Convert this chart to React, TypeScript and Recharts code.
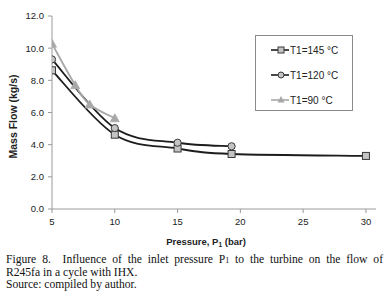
import React from 'react';
import { LineChart, Line, XAxis, YAxis, Label, Legend } from 'recharts';

const pressure145 = [5, 10, 15, 19.3, 30];
const flow145 = [8.62, 4.62, 3.76, 3.42, 3.3];
const pressure120 = [5, 10, 15, 19.3];
const flow120 = [9.3, 5.03, 4.12, 3.9];
const pressure90 = [5, 6.85, 8, 10];
const flow90 = [10.28, 7.7, 6.5, 5.64];
const xTicks = [5, 10, 15, 20, 25, 30];
const yTicks = [0, 2, 4, 6, 8, 10, 12];
const seriesNames = ['T1=145 \u00b0C', 'T1=120 \u00b0C', 'T1=90 \u00b0C'];

const toPoints = (xs: number[], ys: number[]) => xs.map((x, i) => ({ x, y: ys[i] }));
const data145 = toPoints(pressure145, flow145);
const data120 = toPoints(pressure120, flow120);
const data90 = toPoints(pressure90, flow90);

const FONT = '"Liberation Sans", Arial, sans-serif';
const DARK = '#1c1c1c';
const GREY = '#a8a8a8';
const MARK_FILL = '#c4c4c4';
const seriesColors = [DARK, DARK, GREY];

// Excel-like smoothed line (Catmull-Rom through the points)
const excelSmooth = (context: any) => {
  let pts: [number, number][] = [];
  return {
    areaStart() {},
    areaEnd() {},
    lineStart() {
      pts = [];
    },
    point(x: number, y: number) {
      pts.push([+x, +y]);
    },
    lineEnd() {
      if (!pts.length) return;
      context.moveTo(pts[0][0], pts[0][1]);
      for (let i = 0; i < pts.length - 1; i++) {
        const p0 = pts[i - 1] || pts[i];
        const p1 = pts[i];
        const p2 = pts[i + 1];
        const p3 = pts[i + 2] || pts[i + 1];
        const c1x = p1[0] + (p2[0] - p0[0]) / 6;
        const c1y = p1[1] + (p2[1] - p0[1]) / 6;
        const c2x = p2[0] - (p3[0] - p1[0]) / 6;
        const c2y = p2[1] - (p3[1] - p1[1]) / 6;
        context.bezierCurveTo(c1x, c1y, c2x, c2y, p2[0], p2[1]);
      }
    },
  };
};

const SquareDot = (props: any) => {
  const { cx, cy } = props;
  if (cx == null || cy == null) return null;
  return <rect x={cx - 3.5} y={cy - 3.5} width={7} height={7} fill={MARK_FILL} stroke="#3a3a3a" strokeWidth={1} />;
};
const CircleDot = (props: any) => {
  const { cx, cy } = props;
  if (cx == null || cy == null) return null;
  return <circle cx={cx} cy={cy} r={3.6} fill={MARK_FILL} stroke="#3a3a3a" strokeWidth={1} />;
};
const TriangleDot = (props: any) => {
  const { cx, cy } = props;
  if (cx == null || cy == null) return null;
  return <polygon points={`${cx},${cy - 4.5} ${cx + 4.5},${cy + 3.5} ${cx - 4.5},${cy + 3.5}`} fill={GREY} stroke={GREY} strokeWidth={0.8} />;
};

const legendSymbols = [
  (c: number) => <rect x={c - 3} y={4} width={6} height={6} fill={MARK_FILL} stroke="#3a3a3a" strokeWidth={1} />,
  (c: number) => <circle cx={c} cy={7} r={3} fill={MARK_FILL} stroke="#3a3a3a" strokeWidth={1} />,
  (c: number) => <polygon points={`${c},3 ${c + 3.5},9.5 ${c - 3.5},9.5`} fill={GREY} />,
];

const renderLegend = () => {
  return (
    <div
      style={{
        border: '1px solid #8a8a8a',
        width: 98,
        height: 76,
        boxSizing: 'border-box',
        background: '#fff',
        paddingTop: 7,
        fontFamily: FONT,
        fontSize: 10,
        color: '#222',
      }}
    >
      {seriesNames.map((name, i) => (
        <div key={i} style={{ display: 'flex', alignItems: 'center', height: 14, marginBottom: i < 2 ? 11 : 0 }}>
          <svg width={34} height={14} style={{ display: 'block' }}>
            <line x1={15} x2={33} y1={7} y2={7} stroke={seriesColors[i]} strokeWidth={1.6} />
            {legendSymbols[i](25)}
          </svg>
          <span style={{ marginLeft: 0, whiteSpace: 'nowrap' }}>{name}</span>
        </div>
      ))}
    </div>
  );
};

const XLabel = (props: any) => {
  const vb = props.viewBox || { x: 0, y: 0, width: 0, height: 0 };
  const cx = vb.x + vb.width / 2 - 8;
  return (
    <text x={cx} y={245} textAnchor="middle" fontFamily={FONT} fontSize={9.5} fontWeight="bold" fill="#222">
      Pressure, P
      <tspan fontSize={6.5} dy={2}>1</tspan>
      <tspan dy={-2}> (bar)</tspan>
    </text>
  );
};

const YLabel = (props: any) => {
  const vb = props.viewBox || { x: 0, y: 0, width: 0, height: 0 };
  const x = vb.x + 17;
  const y = vb.y + vb.height / 2 + 4;
  return (
    <text x={x} y={y} transform={`rotate(-90, ${x}, ${y})`} textAnchor="middle" fontFamily={FONT} fontSize={10.5} fontWeight="bold" fill="#222">
      Mass Flow (kg/s)
    </text>
  );
};

export default function App() {
  return (
    <div style={{ position: 'absolute', left: 0, top: 0, width: 390, height: 300, background: '#fff' }}>
      <LineChart width={390} height={250} margin={{ top: 16, right: 14, bottom: 11, left: 0 }}>
        <XAxis
          dataKey="x"
          type="number"
          domain={[5, 30.8]}
          ticks={xTicks}
          allowDataOverflow
          stroke="#9a9a9a"
          tickSize={4}
          tickMargin={5}
          height={30}
          tick={{ fontFamily: FONT, fontSize: 9.5, fill: '#222' }}
        >
          <Label content={<XLabel />} />
        </XAxis>
        <YAxis
          type="number"
          domain={[0, 12]}
          ticks={yTicks}
          width={52}
          stroke="#9a9a9a"
          tickSize={4}
          tickMargin={4}
          tickFormatter={(v: number) => v.toFixed(1)}
          tick={{ fontFamily: FONT, fontSize: 9.5, fill: '#222' }}
        >
          <Label content={<YLabel />} />
        </YAxis>
        <Legend
          content={renderLegend}
          layout="vertical"
          verticalAlign="middle"
          align="center"
          wrapperStyle={{ position: 'absolute', left: 255, top: 35, width: 98, height: 76, right: 'auto', bottom: 'auto' }}
        />
        <Line
          data={data145}
          dataKey="y"
          name={seriesNames[0]}
          type={excelSmooth as any}
          stroke={DARK}
          strokeWidth={1.8}
          dot={<SquareDot />}
          activeDot={false}
          isAnimationActive={false}
        />
        <Line
          data={data120}
          dataKey="y"
          name={seriesNames[1]}
          type={excelSmooth as any}
          stroke={DARK}
          strokeWidth={1.8}
          dot={<CircleDot />}
          activeDot={false}
          isAnimationActive={false}
        />
        <Line
          data={data90}
          dataKey="y"
          name={seriesNames[2]}
          type={excelSmooth as any}
          stroke={GREY}
          strokeWidth={1.8}
          dot={<TriangleDot />}
          activeDot={false}
          isAnimationActive={false}
        />
      </LineChart>
      <div
        style={{
          position: 'absolute',
          left: 6,
          top: 254,
          width: 377,
          fontFamily: '"Liberation Serif", "Times New Roman", serif',
          fontSize: 11.6,
          lineHeight: '12px',
          color: '#111',
          textAlign: 'justify',
        }}
      >
        <div style={{ textAlign: 'justify', textAlignLast: 'justify', whiteSpace: 'nowrap' }}>
          Figure 8.&nbsp; Influence of the inlet pressure P<span style={{ fontSize: 8 }}>1</span> to the turbine on the flow of
        </div>
        <div>R245fa in a cycle with IHX.</div>
        <div>Source: compiled by author.</div>
      </div>
    </div>
  );
}
